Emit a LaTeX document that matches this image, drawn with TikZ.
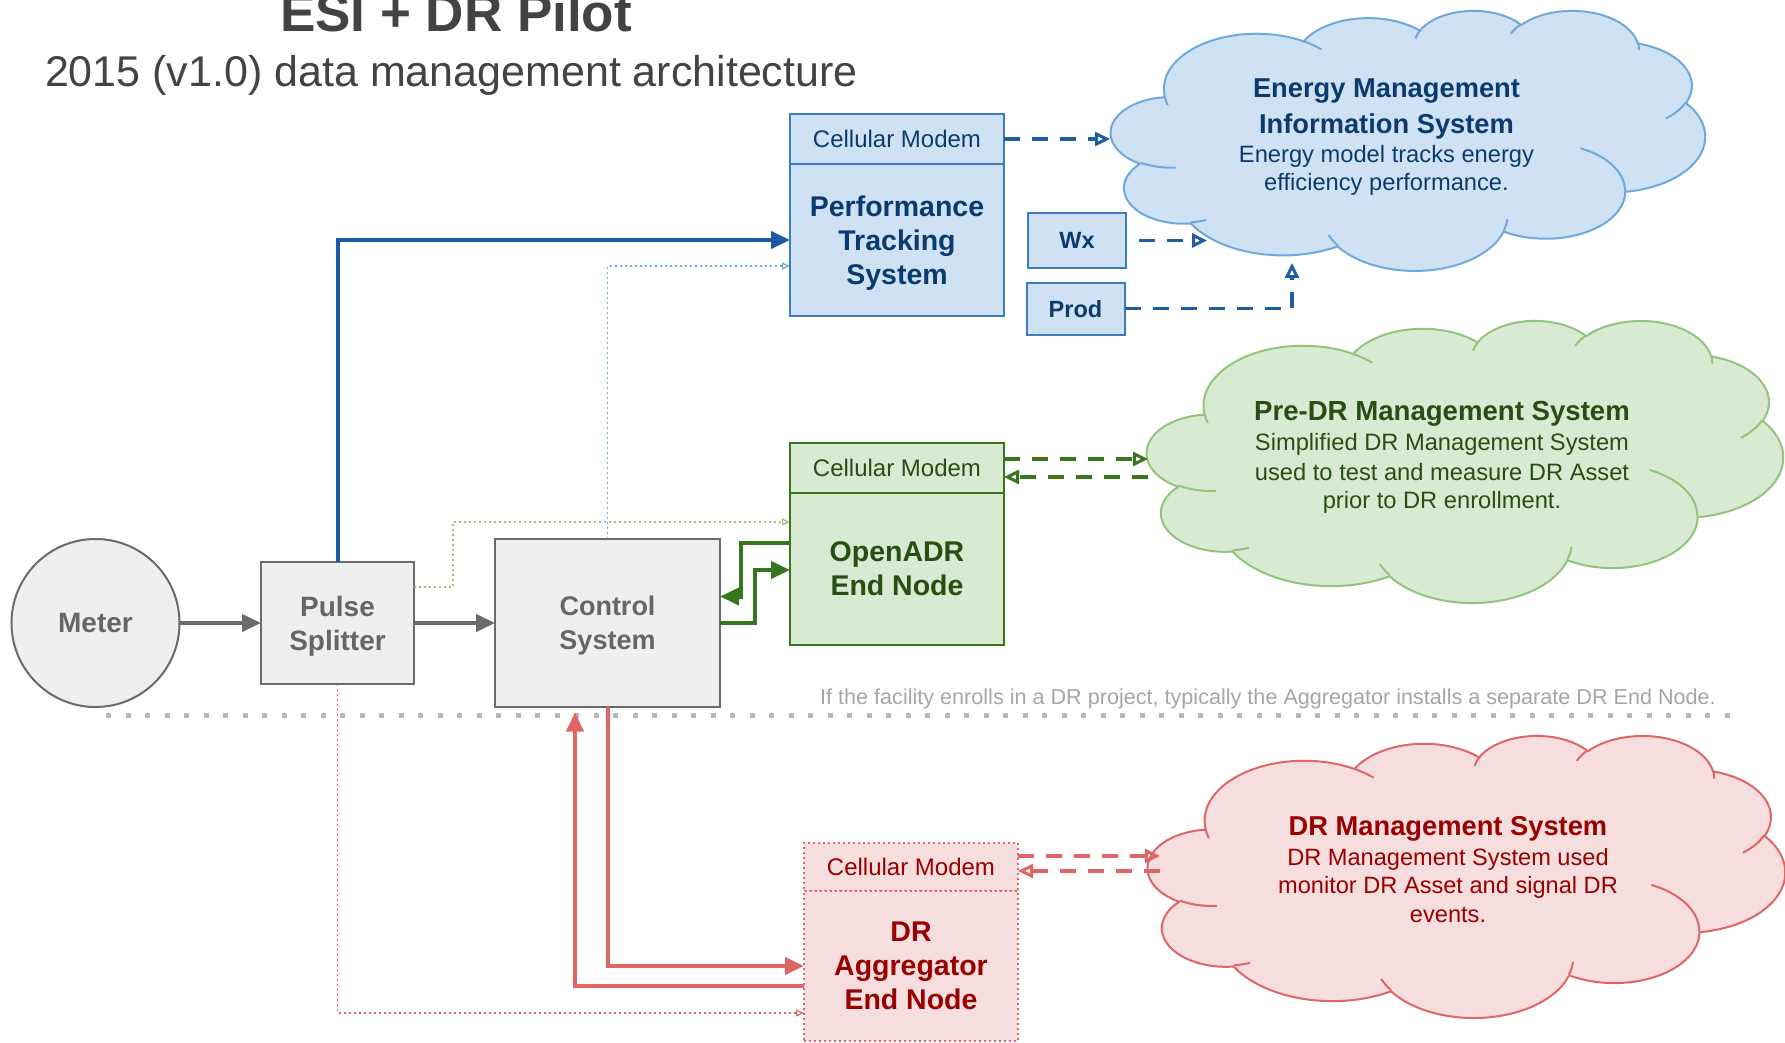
\documentclass[tikz,border=0pt]{standalone}
\usepackage{fontspec}
\setmainfont{Liberation Sans}
\usetikzlibrary{arrows.meta}

\definecolor{gtext}{HTML}{666666}
\definecolor{gfill}{HTML}{EFEFEF}
\definecolor{gline}{HTML}{6B6B6B}
\definecolor{dtext}{HTML}{434343}
\definecolor{bfill}{HTML}{CFE2F3}
\definecolor{bline}{HTML}{3D7CC0}
\definecolor{btext}{HTML}{0B3B6E}
\definecolor{bdark}{HTML}{1C5AA6}
\definecolor{bdash}{HTML}{1F5F9F}
\definecolor{blight}{HTML}{6FA8DC}
\definecolor{gnfill}{HTML}{D9EAD3}
\definecolor{gnline}{HTML}{38761D}
\definecolor{gntext}{HTML}{274E13}
\definecolor{gnlight}{HTML}{93C47D}
\definecolor{rfill}{HTML}{F7DEDE}
\definecolor{rline}{HTML}{E06666}
\definecolor{rtext}{HTML}{990000}
\definecolor{sepgray}{HTML}{B7B7B7}
\definecolor{notegray}{HTML}{A6A6A6}

% elliptical arc with "visual" angles (DrawingML style), continuing the current path
\newcommand\cldarc[4]{%
  \pgfmathsetmacro\cldts{atan2((#1)*sin(#3),(#2)*cos(#3))}%
  \pgfmathsetmacro\cldte{atan2((#1)*sin((#3)+(#4)),(#2)*cos((#3)+(#4)))}%
  \pgfmathsetmacro\cldte{\cldte+360*(\cldte<\cldts)}%
  \pgfpatharcaxes{\cldts}{\cldte}{\pgfpointxy{#1}{0}}{\pgfpointxy{0}{#2}}%
}
\newcommand\cldouter{%
  \pgfpathmoveto{\pgfpointxy{39}{143.7}}%
  \cldarc{67.53}{91.90}{-190.4875}{123.7805}%
  \cldarc{53.33}{72.67}{-144.1024}{89.9452}%
  \cldarc{43.65}{59.45}{-145.8079}{99.7230}%
  \cldarc{48.57}{65.95}{-130.9861}{117.2417}%
  \cldarc{53.33}{72.73}{-78.7089}{109.0269}%
  \cldarc{67.75}{92.20}{-46.2673}{130.2690}%
  \cldarc{57.85}{78.67}{0.6250}{114.0333}%
  \cldarc{67.52}{92.15}{22.4516}{115.1726}%
  \cldarc{77.20}{105.43}{66.2426}{75.7110}%
  \cldarc{43.60}{59.18}{-274.9421}{146.7356}%
  \cldarc{43.45}{59.45}{-246.8285}{152.5189}%
  \pgfpathclose}
\newcommand\cldhooks{%
  \pgfpathmoveto{\pgfpointxy{46.93}{261.77}}\cldarc{43.45}{59.45}{86.742}{26.4295}%
  \pgfpathmoveto{\pgfpointxy{69.28}{348.99}}\cldarc{43.60}{59.18}{73.6105}{11.4475}%
  \pgfpathmoveto{\pgfpointxy{164.78}{390.90}}\cldarc{67.52}{92.15}{137.6242}{14.0811}%
  \pgfpathmoveto{\pgfpointxy{288.27}{347.51}}\cldarc{67.52}{92.15}{6.4533}{15.9984}%
  \pgfpathmoveto{\pgfpointxy{341.29}{229.54}}\cldarc{57.85}{78.67}{-70.2924}{70.9174}%
  \pgfpathmoveto{\pgfpointxy{417.98}{153.54}}\cldarc{53.33}{72.73}{30.3180}{27.7515}%
  \pgfpathmoveto{\pgfpointxy{383.24}{54.26}}\cldarc{48.57}{65.95}{-13.7443}{14.8524}%
  \pgfpathmoveto{\pgfpointxy{290.78}{39.52}}\cldarc{48.57}{65.95}{-149.1815}{18.1954}%
  \pgfpathmoveto{\pgfpointxy{221.41}{47.20}}\cldarc{43.65}{59.45}{-163.4943}{17.6864}%
  \pgfpathmoveto{\pgfpointxy{140.00}{51.92}}\cldarc{67.53}{91.90}{-66.7070}{12.3194}%
  \pgfpathmoveto{\pgfpointxy{41.27}{157.89}}\cldarc{67.53}{91.90}{157.6544}{11.8582}%
}
\newcommand\drawcloud[6]{%
  \pgfmathsetmacro\cldsx{#3/432}\pgfmathsetmacro\cldsy{#4/432}%
  \begin{scope}[shift={(#1,#2)},x={(\cldsx pt,0pt)},y={(0pt,-\cldsy pt)}]
    \pgfsetlinewidth{2pt}\pgfsetfillcolor{#5}\pgfsetstrokecolor{#6}%
    \cldouter\pgfusepath{fill,stroke}%
    \cldhooks\pgfusepath{stroke}%
  \end{scope}}

\begin{document}
\begin{tikzpicture}[x=1pt,y=-1pt,
  box/.style={draw, line width=2pt, inner sep=0pt, outer sep=0pt, align=center, text depth=0pt},
  graybox/.style={box, fill=gfill, draw=gline, text=gtext, font=\fontsize{28}{34}\selectfont\bfseries},
  bluebox/.style={box, fill=bfill, draw=bline, text=btext},
  greenbox/.style={box, fill=gnfill, draw=gnline, text=gntext},
  redbox/.style={box, fill=rfill, draw=rline, text=rtext, line width=1.5pt, dash pattern=on 2pt off 3pt},
  modemtxt/.style={font=\fontsize{24}{28}\selectfont},
  maintxt/.style={font=\fontsize{28.5}{34}\selectfont\bfseries},
  smalltxt/.style={font=\fontsize{23.5}{28}\selectfont\bfseries},
  solidarr/.style={line width=4pt, -{Triangle[length=19pt,width=17pt]}},
  dasharr/.style={line width=3.5pt, dash pattern=on 16pt off 12pt, -{Triangle[open,length=15pt,width=14pt,line width=3pt]}},
  dotarr/.style={line width=1.5pt, dash pattern=on 2pt off 3pt, -{Triangle[open,length=8pt,width=7pt,line width=1.2pt]}},
  cl/.style={anchor=base, inner sep=0pt, outer sep=0pt},
  cltitle/.style={cl, font=\fontsize{27.3}{32}\selectfont\bfseries},
  clbody/.style={cl, font=\fontsize{23.7}{28}\selectfont}
]
\useasboundingbox (0,0) rectangle (1785,1042);
\fill[white] (0,0) rectangle (1785,1042);

% clouds
\drawcloud{1111}{10}{594}{260}{bfill}{blight}
\drawcloud{1147}{320}{636}{282}{gnfill}{gnlight}
\drawcloud{1148}{735}{637}{282}{rfill}{rline}

% titles
\node[cl, anchor=base, text=dtext, font=\fontsize{53}{60}\selectfont\bfseries] (title) at (456,31) {ESI + DR Pilot};
\node[cl, anchor=base west, text=dtext, font=\fontsize{43}{50}\selectfont] (subtitle) at (45,86) {2015 (v1.0) data management architecture};

% cloud texts
\node[cltitle, text=btext] (emis1) at (1386.5,97) {Energy Management};
\node[cltitle, text=btext] (emis2) at (1386.5,133) {Information System};
\node[clbody, text=btext] (emis3) at (1386.5,162) {Energy model tracks energy};
\node[clbody, text=btext] (emis4) at (1386.5,190) {efficiency performance.};

\node[cltitle, text=gntext, font=\fontsize{27.6}{32}\selectfont\bfseries] (pre1) at (1442,420) {Pre-DR Management System};
\node[clbody, text=gntext] (pre2) at (1442,450) {Simplified DR Management System};
\node[clbody, text=gntext] (pre3) at (1442,480) {used to test and measure DR Asset};
\node[clbody, text=gntext] (pre4) at (1442,508) {prior to DR enrollment.};

\node[cltitle, text=rtext] (drm1) at (1448,835) {DR Management System};
\node[clbody, text=rtext, font=\fontsize{23.6}{28}\selectfont] (drm2) at (1448,865) {DR Management System used};
\node[clbody, text=rtext, font=\fontsize{23.6}{28}\selectfont] (drm3) at (1448,893) {monitor DR Asset and signal DR};
\node[clbody, text=rtext, font=\fontsize{23.6}{28}\selectfont] (drm4) at (1448,922) {events.};

% gray nodes
\node[graybox, circle, minimum size=168pt] (meter) at (95.5,623) {Meter};
\node[graybox, minimum width=153pt, minimum height=122pt] (ps) at (337.5,623) {Pulse\\Splitter};
\node[graybox, minimum width=225pt, minimum height=168pt, font=\fontsize{27}{34}\selectfont\bfseries] (cs) at (607.5,622.5) {Control\\System};

% blue nodes
\node[bluebox, modemtxt, minimum width=214pt, minimum height=50pt] (ptsmodem) at (897,139) {Cellular Modem};
\node[bluebox, maintxt, minimum width=214pt, minimum height=152pt, anchor=north] (pts) at (ptsmodem.south) {Performance\\Tracking\\System};
\node[bluebox, smalltxt, minimum width=98pt, minimum height=55pt] (wx) at (1077,240.5) {Wx};
\node[bluebox, smalltxt, minimum width=98pt, minimum height=52pt] (prod) at (1075.5,308.5) {Prod};

% green nodes
\node[greenbox, modemtxt, minimum width=214pt, minimum height=50pt] (oamodem) at (897,468) {Cellular Modem};
\node[greenbox, maintxt, minimum width=214pt, minimum height=152pt, anchor=north] (oa) at (oamodem.south) {OpenADR\\End Node};

% red nodes
\node[redbox, modemtxt, minimum width=214pt, minimum height=48pt] (drmodem) at (911,867) {Cellular Modem};
\node[redbox, maintxt, minimum width=214pt, minimum height=150pt, anchor=north] (dr) at (drmodem.south) {DR\\Aggregator\\End Node};

% separator and note
\coordinate (sepL) at (106,715);
\coordinate (sepR) at (1740,715);
\draw[sepgray, line width=5pt, dash pattern=on 5pt off 14.5pt] (sepL) -- (sepR);
\node[cl, anchor=center, text=notegray, font=\fontsize{21.6}{26}\selectfont] (note) at (1268,699) {If the facility enrolls in a DR project, typically the Aggregator installs a separate DR End Node.};

% cloud anchor points
\coordinate (emisA) at (1110,139);
\coordinate (emisB) at (1207,240.5);
\coordinate (emisC) at (1292,263);
\coordinate (preA) at (1148,459);
\coordinate (preB) at (1148,477);
\coordinate (drA) at (1160,856);
\coordinate (drB) at (1160,871);

% gray connectors
\draw[solidarr, gline] (meter) -- (ps);
\draw[solidarr, gline] (ps.east) -- (ps.east -| cs.west);

% blue connectors
\draw[solidarr, bdark] (ps.north) |- (pts.west);
\draw[dotarr, blight] (cs.north) |- ([yshift=-26pt]pts.west);
\draw[dasharr, bdash] (ptsmodem.east) -- (emisA);
\draw[dasharr, bdash] ([xshift=13pt]wx.east) -- (emisB);
\draw[dasharr, bdash] (prod.east) -| (emisC);

% green connectors
\draw[dotarr, gnlight] ([yshift=36pt]ps.east) -- ++(39,0) |- ([yshift=47pt]oa.west);
\draw[solidarr, gnline] ([yshift=26pt]oa.west) -- ++(-49,0) |- ([yshift=26pt]cs.east);
\draw[solidarr, gnline] (cs.east) -- ++(35,0) |- ([yshift=-1pt]oa.west);
\draw[dasharr, gnline] ([yshift=9pt]oamodem.east) -- (preA);
\draw[dasharr, gnline] (preB) -- ([yshift=-9pt]oamodem.east);

% red connectors
\draw[solidarr, rline] (cs.south) |- (dr.west);
\draw[solidarr, rline, shorten >=6pt] ([yshift=-20pt]dr.west) -| ([xshift=-32.5pt]cs.south);
\draw[dotarr, rline] (ps.south) |- ([yshift=-47pt]dr.west);
\draw[dasharr, rline] ([yshift=11pt]drmodem.east) -- (drA);
\draw[dasharr, rline] (drB) -- ([yshift=-4pt]drmodem.east);
\end{tikzpicture}
\end{document}
